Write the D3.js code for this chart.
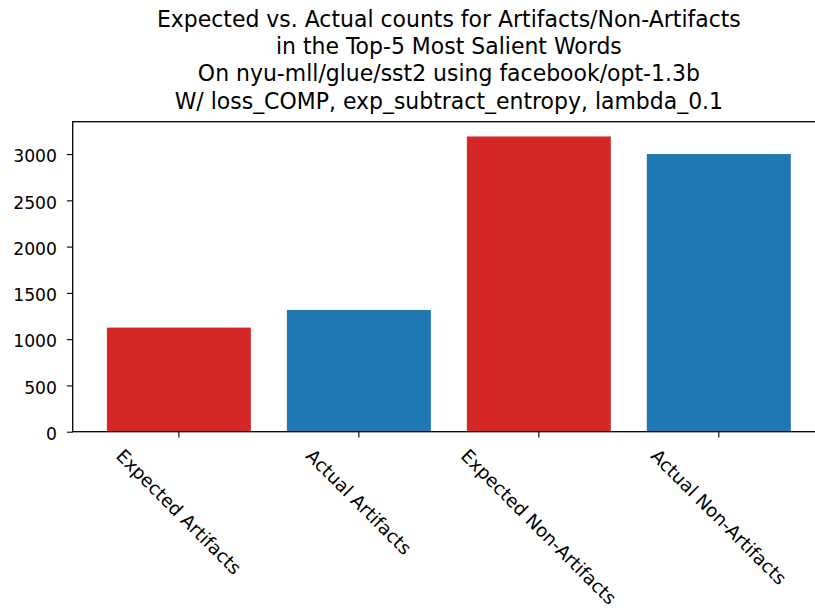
<!DOCTYPE html>
<html>
<head>
<meta charset="utf-8">
<script src="https://cdn.jsdelivr.net/npm/d3@7"></script>
<style>
  body { margin: 0; background: #fff; }
  svg { display: block; }
  text { font-family: "DejaVu Sans", sans-serif; fill: #000; }
</style>
</head>
<body>
<div id="grafico"></div>
<script>
const categorias = ["Expected Artifacts", "Actual Artifacts", "Expected Non-Artifacts", "Actual Non-Artifacts"];
const valores = [1125, 1315, 3190, 3000];
const colores = ["#d62728", "#1f77b4", "#d62728", "#1f77b4"];
const ticksY = [0, 500, 1000, 1500, 2000, 2500, 3000];
const lineasTitulo = [
    "Expected vs. Actual counts for Artifacts/Non-Artifacts",
    "in the Top-5 Most Salient Words",
    "On nyu-mll/glue/sst2 using facebook/opt-1.3b",
    "W/ loss_COMP, exp_subtract_entropy, lambda_0.1"
];

const ancho = 815, alto = 608;
const izquierda = 72.7, derecha = 825, arriba = 121.7, abajo = 431.7;
const largoTick = 5.8;
const tamTicks = 18.3, tamTitulo = 23.5;
const compresion = 0.94;

const $svg = d3.select("#grafico")
    .append("svg")
    .attr("width", ancho)
    .attr("height", alto);

const x = d3.scaleBand()
    .domain(categorias)
    .range([izquierda, derecha])
    .paddingInner(0.2)
    .paddingOuter(0.19);

const y = d3.scaleLinear()
    .domain([0, d3.max(valores) * 1.05])
    .range([abajo, arriba]);

// barras
$svg.append("g")
    .selectAll("rect")
    .data(categorias)
    .join("rect")
    .attr("x", d => x(d))
    .attr("width", x.bandwidth())
    .attr("y", (d, i) => y(valores[i]))
    .attr("height", (d, i) => abajo - y(valores[i]))
    .attr("fill", (d, i) => colores[i]);

// eje y
const ejeY = $svg.append("g")
    .attr("transform", `translate(${izquierda},0)`)
    .call(d3.axisLeft(y).tickValues(ticksY).tickFormat(d3.format("d")).tickSize(largoTick).tickSizeOuter(0));
ejeY.select(".domain").remove();
ejeY.selectAll("line").attr("stroke", "#000").attr("stroke-width", 1.1);
ejeY.selectAll("text")
    .attr("font-size", tamTicks)
    .attr("font-family", "DejaVu Sans")
    .attr("fill", "#222")
    .attr("x", 0)
    .attr("dy", null)
    .style("dominant-baseline", "central")
    .attr("transform", `translate(-15.7,1.5) scale(${compresion},1)`);

// eje x
const ejeX = $svg.append("g")
    .attr("transform", `translate(0,${abajo})`)
    .call(d3.axisBottom(x).tickSize(largoTick).tickSizeOuter(0));
ejeX.select(".domain").remove();
ejeX.selectAll("line").attr("stroke", "#000").attr("stroke-width", 1.1);
ejeX.selectAll("text")
    .attr("font-size", tamTicks)
    .attr("font-family", "DejaVu Sans")
    .attr("fill", "#222")
    .attr("dy", null)
    .attr("y", null)
    .style("text-anchor", "middle")
    .style("dominant-baseline", "central")
    .each(function () {
        const largo = this.getComputedTextLength();
        const altoCaja = (largo + tamTicks) * Math.SQRT1_2;
        const cy = 446 - abajo + altoCaja / 2;
        d3.select(this).attr("transform", `translate(0,${cy}) rotate(45)`);
    });

// marco
$svg.append("rect")
    .attr("x", izquierda)
    .attr("y", arriba)
    .attr("width", derecha - izquierda)
    .attr("height", abajo - arriba)
    .attr("fill", "none")
    .attr("stroke", "#000")
    .attr("stroke-width", 1.3);

// titulo
const centroTitulo = (izquierda + derecha) / 2;
$svg.append("g")
    .selectAll("text")
    .data(lineasTitulo)
    .join("text")
    .attr("x", 0)
    .attr("y", 0)
    .attr("transform", (d, i) => `translate(${centroTitulo},${26.7 + i * 27.3}) scale(${compresion - 0.005},1)`)
    .attr("font-size", tamTitulo)
    .attr("fill", "#111")
    .style("text-anchor", "middle")
    .text(d => d);
</script>
</body>
</html>
